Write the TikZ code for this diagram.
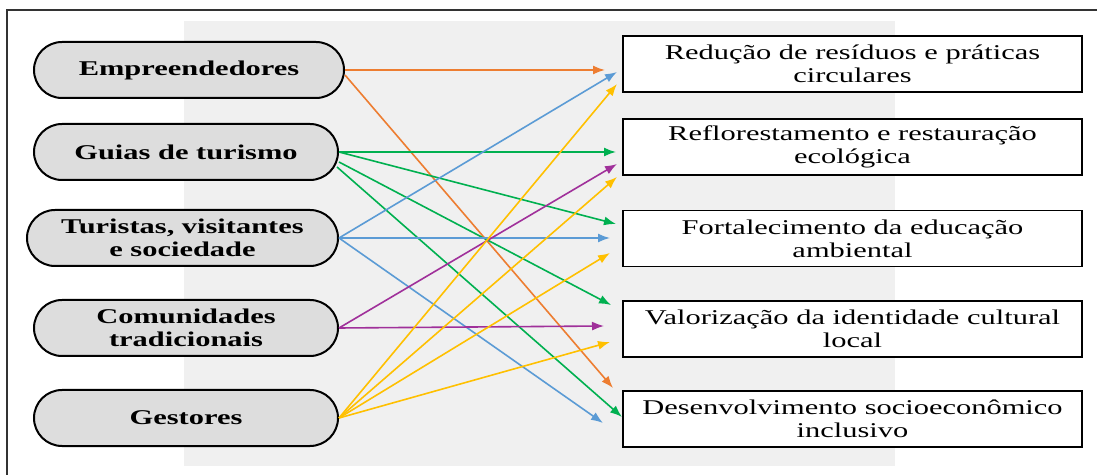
\documentclass[tikz,border=0pt]{standalone}
\usepackage{fontspec}
\setmainfont{Liberation Serif}[FakeStretch=1.45]
\usepackage{tikz}
\usetikzlibrary{arrows.meta}

\definecolor{bggray}{HTML}{F0F0F0}
\definecolor{actorgray}{HTML}{DDDDDD}
\definecolor{corange}{HTML}{ED7D31}
\definecolor{cblue}{HTML}{5B9BD5}
\definecolor{cgreen}{HTML}{00B050}
\definecolor{cpurple}{HTML}{A0309A}
\definecolor{cyellow}{HTML}{FFC000}

\tikzset{
	actor/.style = {draw, line width=1pt, fill=actorgray, rounded corners=14pt, minimum height=28pt, inner sep=0pt, align=center, font=\fontsize{10.5}{11.5}\selectfont\bfseries},
	goal/.style = {draw, line width=0.6pt, fill=white, minimum width=229.5pt, minimum height=28pt, inner sep=0pt, align=center, font=\fontsize{10.5}{11.5}\selectfont},
	link/.style = {line width=0.8pt, -{Latex[length=6pt, width=4.5pt]}}
}

\begin{document}
\begin{tikzpicture}[x=0.5pt, y=-0.5pt]
	\useasboundingbox (0,0) rectangle (1097,475);
	\draw [line width=0.6pt, black!80] (7,475) -- (7,10) -- (1097,10);
	\fill [bggray] (184,21) rectangle (895,466);

	% grupos
	\node [actor, minimum width=155pt] (emp) at (189,70) {Empreendedores};
	\node [actor, minimum width=152pt] (gui) at (186,152) {Guias de turismo};
	\node [actor, minimum width=155.5pt] (tur) at (182.5,238) {Turistas, visitantes\\e sociedade};
	\node [actor, minimum width=152pt] (com) at (186,328) {Comunidades\\tradicionais};
	\node [actor, minimum width=152pt] (ges) at (186,418) {Gestores};

	% resultados
	\node [goal] (r1) at (852.5,64) {Redução de resíduos e práticas\\circulares};
	\node [goal] (r2) at (852.5,147) {Reflorestamento e restauração\\ecológica};
	\node [goal] (r3) at (852.5,238.5) {Fortalecimento da educação\\ambiental};
	\node [goal] (r4) at (852.5,329) {Valorização da identidade cultural\\local};
	\node [goal] (r5) at (852.5,419) {Desenvolvimento socioeconômico\\inclusivo};

	\coordinate (emp-r1) at (605,70);
	\coordinate (emp-r5) at (613,388);
	\coordinate (gui-r2) at (616,152);
	\coordinate (gui-r3) at (616,224);
	\coordinate (gui-r4) at (611,305);
	\coordinate (gui-r5) at (622,417);
	\coordinate (tur-r1) at (617,72);
	\coordinate (tur-r3) at (610,238);
	\coordinate (tur-r5) at (603,423);
	\coordinate (com-r2) at (617,164);
	\coordinate (com-r4) at (604,326);
	\coordinate (ges-r1) at (617,84);
	\coordinate (ges-r2) at (617,177);
	\coordinate (ges-r3) at (610,253);
	\coordinate (ges-r4) at (610,342);

	\draw [link, corange] (emp.east) -- (emp-r1);
	\draw [link, corange] ([yshift=-2.5pt]emp.east) -- (emp-r5);
	\draw [link, cgreen] (gui.east) -- (gui-r2);
	\draw [link, cgreen] (gui.east) -- (gui-r3);
	\draw [link, cgreen] ([yshift=-5pt]gui.east) -- (gui-r4);
	\draw [link, cgreen] ([xshift=-1pt, yshift=-7.5pt]gui.east) -- (gui-r5);
	\draw [link, cblue] (tur.east) -- (tur-r1);
	\draw [link, cblue] (tur.east) -- (tur-r3);
	\draw [link, cblue] (tur.east) -- (tur-r5);
	\draw [link, cpurple] (com.east) -- (com-r2);
	\draw [link, cpurple] (com.east) -- (com-r4);
	\draw [link, cyellow] (ges.east) -- (ges-r1);
	\draw [link, cyellow] (ges.east) -- (ges-r2);
	\draw [link, cyellow] (ges.east) -- (ges-r3);
	\draw [link, cyellow] (ges.east) -- (ges-r4);

\end{tikzpicture}
\end{document}
